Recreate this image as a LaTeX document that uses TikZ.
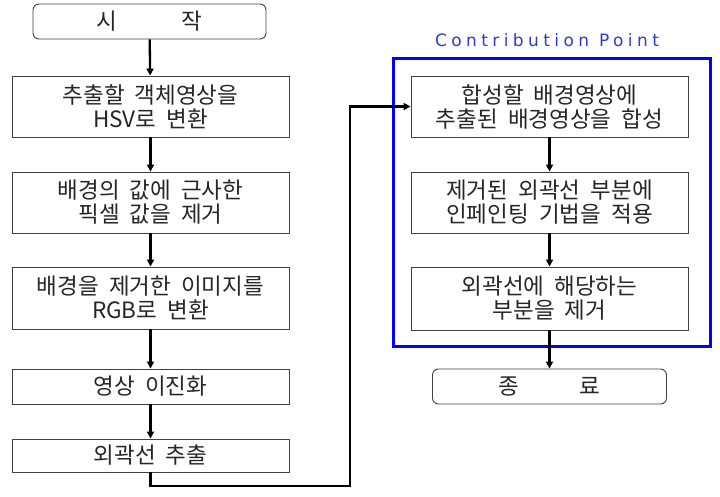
\documentclass[tikz,border=0pt]{standalone}
\usepackage{fontspec}
\setmainfont{Noto Sans CJK KR}[WordSpace=2]
\newfontfamily\cpfont{DejaVu Sans}[LetterSpace=26]
\usetikzlibrary{arrows.meta}
\definecolor{cpblue}{RGB}{45,60,205}
\tikzset{
  box/.style={draw=black!75, line width=0.9pt, fill=white, align=center, inner sep=0pt,
    text=black!85, font=\fontsize{22.5}{24}\selectfont},
  term/.style={box, rounded corners=6pt},
  arr/.style={line width=2.3pt, -{Triangle[length=7pt,width=7pt]}},
}
\begin{document}
\begin{tikzpicture}[x=1pt,y=-1pt]
\useasboundingbox (0,0) rectangle (720,496);
% blue frame
\draw[blue, line width=3pt] (393,58) rectangle (710,346);
\node[text=cpblue, font=\cpfont\fontsize{17}{20}\selectfont] (cp) at (547,40) {Contribution Point};
% left column
\node[term, minimum width=233, minimum height=35] (st) at (149.5,21.5) {시\hspace{64pt}작};
\node[box, minimum width=277, minimum height=61] (b1) at (150.5,106.5) {추출할 객체영상을\\HSV로 변환};
\node[box, minimum width=277, minimum height=61] (b2) at (150.5,202.5) {배경의 값에 근사한\\ 픽셀 값을 제거};
\node[box, minimum width=277, minimum height=62] (b3) at (150.5,298) {배경을 제거한 이미지를\\RGB로 변환};
\node[box, minimum width=277, minimum height=35] (b4) at (150.5,386.5) {영상 이진화};
\node[box, minimum width=277, minimum height=33] (b5) at (150.5,455.5) {외곽선 추출};
% right column
\node[box, minimum width=277, minimum height=61] (r1) at (549.5,106.5) {합성할 배경영상에\\추출된 배경영상을 합성};
\node[box, minimum width=277, minimum height=61] (r2) at (549.5,202.5) {제거된 외곽선 부분에\\인페인팅 기법을 적용};
\node[box, minimum width=277, minimum height=63] (r3) at (549.5,298.5) {외곽선에 해당하는\\부분을 제거};
\node[term, minimum width=234, minimum height=35] (en) at (549.5,386.5) {종\hspace{60pt}료};
\coordinate (k1) at (350,486);
% connectors
\draw[arr] (st) -- (b1);
\draw[arr] (b1) -- (b2);
\draw[arr] (b2) -- (b3);
\draw[arr] (b3) -- (b4);
\draw[arr] (b4) -- (b5);
\draw[arr] (b5.south) |- (k1) |- (r1.west);
\draw[arr] (r1) -- (r2);
\draw[arr] (r2) -- (r3);
\draw[arr] (r3) -- (en);
\end{tikzpicture}
\end{document}
